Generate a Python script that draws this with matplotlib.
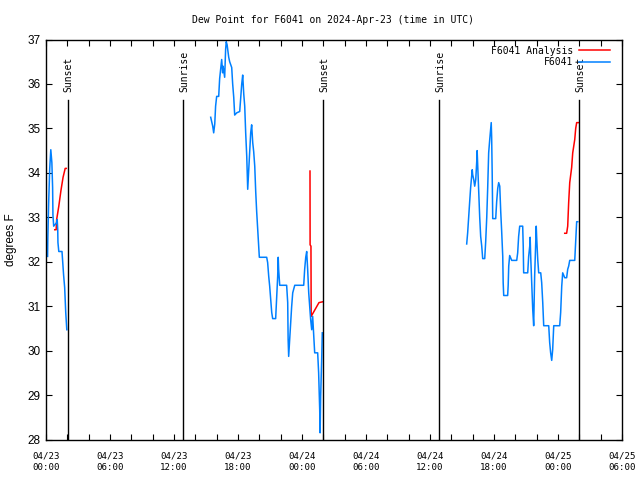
import numpy as np
import matplotlib
matplotlib.use("Agg")
import matplotlib.pyplot as plt
from matplotlib.transforms import blended_transform_factory

nan = np.nan

# hours since 2024-04-23 00:00 UTC
obs_hours = [
    0.15, 0.17, 0.25, 0.35, 0.45, 0.55, 0.62, 0.65, 0.72, 1.0, 1.05, 1.1, 1.12, 1.2, 1.5, 1.55, 1.65, 1.75, 1.85, 1.95,
    nan,
    15.44, 15.63, 15.72, 15.82, 15.9, 16.0, 16.19, 16.28, 16.47, 16.56, 16.6, 16.75, 16.84, 16.9, 16.98, 17.03, 17.13,
    17.22, 17.41, 17.5, 17.6, 17.69, 17.88, 18.16, 18.35, 18.44, 18.54, 18.63, 18.72, 18.82, 18.91, 19.0, 19.1, 19.19,
    19.28, 19.38, 19.47, 19.57, 19.66, 19.75, 19.85, 19.94, 20.0, 20.69, 20.78, 20.88, 20.97, 21.07, 21.16, 21.25,
    21.53, 21.63, 21.72, 21.77, 21.81, 21.91, 22.56, 22.66, 22.7, 22.75, 22.85, 22.94, 23.03, 23.13, 23.32, 24.16,
    24.25, 24.35, 24.44, 24.53, 24.63, 24.81, 24.91, 25.0, 25.1, 25.19, 25.47, 25.56, 25.66, 25.7, 25.75, 25.85, 25.9,
    nan,
    39.44, 39.53, 39.63, 39.72, 39.81, 39.91, 39.96, 40.0, 40.1, 40.19, 40.29, 40.38, 40.42, 40.47, 40.57, 40.66,
    40.75, 40.85, 40.94, 41.13, 41.22, 41.32, 41.41, 41.5, 41.6, 41.69, 41.74, 41.78, 41.83, 41.88, 42.16, 42.25,
    42.35, 42.44, 42.54, 42.63, 42.72, 42.82, 42.86, 42.91, 43.28, 43.33, 43.38, 43.47, 43.57, 43.66, 44.13, 44.22,
    44.31, 44.41, 44.69, 44.74, 44.78, 45.16, 45.25, 45.35, 45.39, 45.44, 45.53, 45.63, 45.72, 45.77, 45.81, 45.91,
    45.96, 46.0, 46.1, 46.19, 46.38, 46.47, 46.57, 46.66, 47.13, 47.22, 47.31, 47.41, 47.5, 47.6, 48.16, 48.25,
    48.35, 48.44, 48.53, 48.63, 48.81, 48.91, 49.0, 49.1, 49.57, 49.66, 49.75, 49.85,
]
obs_dewpoint = [
    32.12, 32.5, 33.33, 34.1, 34.52, 34.23, 33.67, 33.06, 32.8, 32.88, 32.95, 32.72, 32.43, 32.23, 32.23, 32.05, 31.7, 31.42, 30.86, 30.47,
    nan,
    35.25, 35.05, 34.9, 35.1, 35.5, 35.72, 35.72, 36.12, 36.55, 36.25, 36.4, 36.15, 36.78, 36.95, 36.88, 36.78, 36.6,
    36.5, 36.37, 36.0, 35.7, 35.3, 35.35, 35.38, 36.0, 36.2, 35.77, 35.5, 34.9, 34.37, 33.63, 34.03, 34.45, 34.9,
    35.08, 34.68, 34.48, 34.15, 33.58, 33.13, 32.72, 32.32, 32.1, 32.1, 31.98, 31.67, 31.45, 31.15, 30.86, 30.72,
    30.72, 31.22, 31.67, 32.1, 31.83, 31.47, 31.47, 31.08, 30.25, 29.87, 30.25, 30.63, 30.99, 31.3, 31.47, 31.47,
    31.83, 32.1, 32.23, 31.83, 31.3, 30.7, 30.47, 30.77, 30.32, 29.95, 29.95, 29.5, 28.67, 28.15, 28.97, 29.84, 30.4,
    nan,
    32.4, 32.65, 33.0, 33.35, 33.67, 33.92, 34.07, 33.96, 33.85, 33.7, 33.85, 34.25, 34.5, 34.19, 33.58, 33.0,
    32.57, 32.35, 32.07, 32.07, 32.45, 33.0, 33.67, 34.45, 34.75, 34.98, 35.13, 34.8, 34.0, 32.97, 32.97, 33.35,
    33.65, 33.78, 33.7, 33.13, 32.68, 32.12, 31.53, 31.24, 31.24, 31.47, 31.9, 32.14, 32.08, 32.03, 32.03, 32.2,
    32.57, 32.8, 32.8, 32.35, 31.75, 31.75, 32.12, 32.35, 32.55, 32.12, 31.53, 30.93, 30.56, 31.2, 31.67, 32.43,
    32.8, 32.55, 32.05, 31.75, 31.75, 31.53, 31.08, 30.56, 30.56, 30.18, 29.95, 29.78, 30.02, 30.56, 30.56, 30.86,
    31.45, 31.75, 31.7, 31.64, 31.64, 31.83, 31.9, 32.03, 32.03, 32.48, 32.9, 32.9,
]

ana_hours = [
    0.82, 0.95, 1.0, 1.2, 1.4, 1.6, 1.8, 1.9,
    nan,
    24.75, 24.76, 24.84, 24.86, 25.59, 25.97,
    nan,
    48.63, 48.81, 48.91, 49.0, 49.1, 49.28, 49.38, 49.57, 49.66, 49.75, 49.94,
]
ana_dewpoint = [
    32.72, 32.72, 32.95, 33.25, 33.6, 33.9, 34.1, 34.1,
    nan,
    34.04, 32.38, 32.35, 30.77, 31.08, 31.1,
    nan,
    32.64, 32.64, 32.8, 33.33, 33.78, 34.12, 34.45, 34.75, 35.0, 35.13, 35.13,
]

sun_hours = [2.03, 12.85, 25.97, 36.86, 49.97]
sun_labels = ["Sunset", "Sunrise", "Sunset", "Sunrise", "Sunset"]

xtick_hours = [0, 6, 12, 18, 24, 30, 36, 42, 48, 54]
xtick_labels = ["04/23\n00:00", "04/23\n06:00", "04/23\n12:00", "04/23\n18:00",
                "04/24\n00:00", "04/24\n06:00", "04/24\n12:00", "04/24\n18:00",
                "04/25\n00:00", "04/25\n06:00"]
ytick_values = [28, 29, 30, 31, 32, 33, 34, 35, 36, 37]

MONO = "DejaVu Sans Mono"
SANS = "Liberation Sans"

fig = plt.figure(figsize=(6.4, 4.8), dpi=100)
ax = fig.add_axes([46 / 640, 1 - 439.5 / 480, 576 / 640, 400 / 480])

ax.plot(ana_hours, ana_dewpoint, color="#ff0000", lw=1.1, label="F6041 Analysis")
ax.plot(obs_hours, obs_dewpoint, color="#0080ff", lw=1.1, label="F6041")

trans = blended_transform_factory(ax.transData, ax.transAxes)
for h, lab in zip(sun_hours, sun_labels):
    ax.axvline(h, ymin=0, ymax=0.848, color="black", lw=1.0)
    ax.text(h + 0.1, 0.868, lab, transform=trans, rotation=90, ha="center", va="bottom",
            fontsize=7, family=MONO)

ax.set_xlim(0, 54)
ax.set_ylim(28, 37)
ax.set_xticks(xtick_hours)
ax.set_xticklabels(xtick_labels, family=MONO, fontsize=6.6, linespacing=1.45)
ax.set_xticks(np.arange(0, 55, 2), minor=True)
ax.set_yticks(ytick_values)
ax.set_yticklabels([str(v) for v in ytick_values], family=SANS, fontsize=8.5)
ax.tick_params(which="both", direction="in", top=True, right=True, length=4, width=0.8)
ax.tick_params(axis="x", which="major", pad=8.5)
ax.tick_params(axis="y", which="major", pad=4)
for s in ax.spines.values():
    s.set_linewidth(1.0)

fig.text(11 / 640, 1 - 240 / 480, "degrees F", rotation=90, ha="center", va="center",
         family=SANS, fontsize=8.5)
fig.text(333 / 640, 1 - 20 / 480, "Dew Point for F6041 on 2024-Apr-23 (time in UTC)",
         ha="center", va="center", family=MONO, fontsize=7)

leg = ax.legend(loc="upper right", bbox_to_anchor=(1 - 12 / 576, 1 - 6 / 400), markerfirst=False,
                frameon=False, prop={"family": MONO, "size": 7}, handlelength=3.2,
                handletextpad=0.6, labelspacing=0.15, borderaxespad=0, borderpad=0)

fig.savefig("out.png", dpi=100)
